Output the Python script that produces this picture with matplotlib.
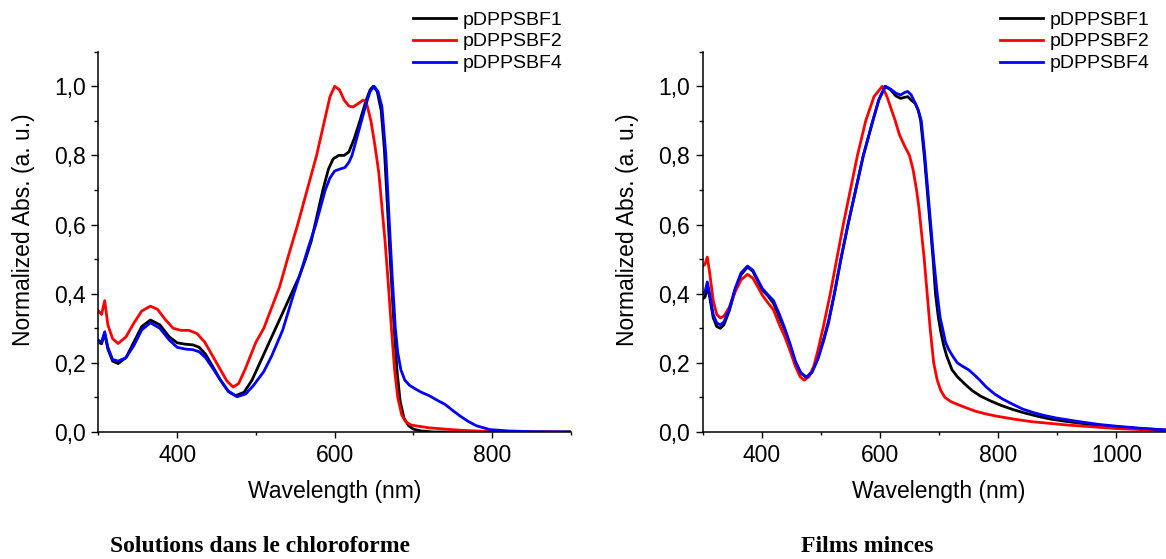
import matplotlib
matplotlib.use('Agg')
import matplotlib.pyplot as plt
from matplotlib.ticker import MultipleLocator, FuncFormatter

plt.rcParams['font.family'] = ['Liberation Sans', 'DejaVu Sans']

# === Dati: solutions dans le chloroforme ===
wl_sol_1 = [300, 304, 308, 312, 318, 325, 335, 345, 355, 366, 378, 390, 400, 410, 420, 428,
            436, 445, 455, 465, 474, 485, 495, 505, 515, 525, 535, 545, 555, 563, 570, 575,
            580, 585, 592, 598, 605, 612, 618, 625, 632, 640, 645, 649, 654, 659, 663, 667,
            671, 675, 679, 683, 688, 694, 700, 710, 725, 800, 900]
abs_sol_1 = [0.26, 0.255, 0.285, 0.24, 0.205, 0.198, 0.215, 0.26, 0.305, 0.324, 0.31, 0.275,
             0.258, 0.254, 0.252, 0.245, 0.225, 0.19, 0.15, 0.118, 0.105, 0.115, 0.15, 0.2,
             0.25, 0.3, 0.35, 0.4, 0.45, 0.5, 0.55, 0.6, 0.65, 0.7, 0.76, 0.79, 0.8, 0.8,
             0.81, 0.85, 0.9, 0.96, 0.99, 1.0, 0.985, 0.93, 0.82, 0.65, 0.48, 0.32, 0.18,
             0.09, 0.04, 0.018, 0.008, 0.003, 0.0, 0.0, 0.0]

wl_sol_2 = [300, 304, 308, 312, 318, 325, 335, 345, 355, 366, 375, 385, 395, 405, 415, 425,
            435, 445, 455, 463, 471, 478, 486, 493, 500, 510, 520, 530, 540, 553, 565, 577,
            587, 594, 600, 606, 612, 618, 623, 630, 636, 640, 646, 651, 656, 660, 664, 668,
            672, 676, 680, 685, 690, 697, 720, 760, 800, 900]
abs_sol_2 = [0.35, 0.34, 0.38, 0.31, 0.27, 0.256, 0.275, 0.315, 0.35, 0.364, 0.355, 0.325,
             0.3, 0.294, 0.294, 0.285, 0.26, 0.22, 0.18, 0.148, 0.13, 0.14, 0.18, 0.22,
             0.26, 0.3, 0.36, 0.42, 0.5, 0.6, 0.7, 0.8, 0.9, 0.97, 1.0, 0.99, 0.96, 0.943,
             0.94, 0.95, 0.96, 0.955, 0.9, 0.83, 0.75, 0.65, 0.55, 0.43, 0.3, 0.18, 0.1,
             0.05, 0.03, 0.02, 0.012, 0.005, 0.001, 0.0]

wl_sol_4 = [300, 304, 308, 312, 318, 325, 335, 345, 355, 366, 378, 390, 400, 410, 420, 428,
            436, 445, 455, 465, 476, 487, 497, 510, 520, 534, 548, 558, 566, 576, 582, 588,
            594, 600, 606, 613, 618, 622, 628, 634, 640, 645, 650, 655, 660, 665, 669, 673,
            677, 680, 684, 689, 695, 702, 710, 720, 730, 740, 750, 760, 770, 780, 797, 821,
            850, 900]
abs_sol_4 = [0.265, 0.26, 0.29, 0.245, 0.21, 0.205, 0.215, 0.25, 0.295, 0.316, 0.3, 0.266,
             0.245, 0.24, 0.238, 0.232, 0.215, 0.185, 0.15, 0.117, 0.102, 0.11, 0.135, 0.175,
             0.22, 0.295, 0.4, 0.47, 0.53, 0.6, 0.65, 0.7, 0.735, 0.755, 0.76, 0.765, 0.78,
             0.8, 0.85, 0.9, 0.95, 0.985, 1.0, 0.985, 0.94, 0.8, 0.62, 0.45, 0.3, 0.23, 0.18,
             0.15, 0.135, 0.125, 0.115, 0.105, 0.092, 0.08, 0.062, 0.045, 0.03, 0.018, 0.007,
             0.003, 0.001, 0.0]

# === Dati: films minces ===
wl_film_1 = [300, 304, 308, 312, 318, 324, 330, 336, 345, 355, 365, 376, 385, 395, 401, 410,
             420, 430, 439, 448, 457, 466, 476, 485, 495, 505, 513, 523, 534, 546, 559, 572,
             588, 598, 609, 618, 627, 635, 642, 647, 653, 660, 665, 669, 675, 680, 685, 690,
             694, 699, 703, 708, 713, 722, 731, 743, 756, 770, 787, 805, 825, 845, 868, 890,
             918, 950, 999, 1040, 1100]
abs_film_1 = [0.385, 0.39, 0.42, 0.39, 0.33, 0.305, 0.3, 0.31, 0.35, 0.41, 0.455, 0.477,
              0.465, 0.43, 0.41, 0.395, 0.372, 0.33, 0.295, 0.25, 0.2, 0.17, 0.158, 0.175,
              0.215, 0.27, 0.32, 0.4, 0.5, 0.6, 0.7, 0.8, 0.9, 0.96, 1.0, 0.99, 0.972, 0.965,
              0.968, 0.97, 0.96, 0.95, 0.93, 0.9, 0.8, 0.7, 0.6, 0.5, 0.4, 0.33, 0.29, 0.25,
              0.22, 0.18, 0.16, 0.14, 0.12, 0.104, 0.09, 0.077, 0.065, 0.055, 0.045, 0.037,
              0.03, 0.023, 0.015, 0.01, 0.004]

wl_film_2 = [300, 304, 308, 312, 318, 324, 330, 336, 345, 355, 365, 376, 385, 395, 401, 410,
             420, 430, 439, 448, 457, 465, 472, 480, 488, 495, 505, 516, 527, 538, 550, 562,
             576, 590, 604, 612, 619, 626, 633, 641, 650, 656, 662, 666, 669, 675, 680, 685,
             691, 697, 703, 710, 720, 731, 746, 762, 780, 800, 828, 856, 887, 918, 960, 999,
             1040, 1100]
abs_film_2 = [0.48, 0.485, 0.506, 0.46, 0.38, 0.34, 0.33, 0.335, 0.36, 0.405, 0.44, 0.456,
              0.445, 0.415, 0.396, 0.375, 0.353, 0.31, 0.276, 0.235, 0.19, 0.16, 0.15, 0.16,
              0.19, 0.235, 0.31, 0.4, 0.5, 0.6, 0.7, 0.8, 0.9, 0.97, 1.0, 0.97, 0.935, 0.9,
              0.86, 0.83, 0.8, 0.76, 0.7, 0.65, 0.6, 0.5, 0.4, 0.3, 0.2, 0.15, 0.12, 0.1,
              0.088, 0.08, 0.07, 0.06, 0.052, 0.045, 0.037, 0.03, 0.025, 0.02, 0.015, 0.01,
              0.007, 0.003]

wl_film_4 = [300, 304, 308, 312, 318, 324, 330, 336, 345, 355, 365, 376, 385, 395, 401, 410,
             420, 430, 439, 448, 457, 466, 476, 485, 495, 505, 513, 523, 534, 546, 559, 572,
             588, 598, 609, 618, 627, 635, 642, 647, 653, 660, 665, 670, 676, 681, 686, 691,
             697, 702, 706, 711, 716, 723, 731, 740, 750, 760, 769, 780, 794, 808, 825, 842,
             862, 880, 900, 937, 970, 999, 1040, 1100]
abs_film_4 = [0.4, 0.405, 0.434, 0.4, 0.34, 0.315, 0.31, 0.318, 0.355, 0.415, 0.46, 0.48,
              0.468, 0.435, 0.415, 0.398, 0.38, 0.34, 0.3, 0.255, 0.205, 0.172, 0.158, 0.172,
              0.21, 0.265, 0.315, 0.4, 0.5, 0.6, 0.7, 0.8, 0.9, 0.96, 1.0, 0.992, 0.98, 0.975,
              0.982, 0.985, 0.975, 0.95, 0.93, 0.9, 0.8, 0.7, 0.6, 0.5, 0.4, 0.33, 0.3, 0.26,
              0.24, 0.22, 0.2, 0.19, 0.18, 0.165, 0.15, 0.13, 0.11, 0.095, 0.08, 0.066, 0.055,
              0.047, 0.04, 0.03, 0.022, 0.017, 0.011, 0.004]

labels = ['pDPPSBF1', 'pDPPSBF2', 'pDPPSBF4']
colors = ['black', '#ff0000', '#0000ff']

# === Figura ===
W, H = 1166, 559
fig = plt.figure(figsize=(W / 100, H / 100), dpi=100, facecolor='w')

ax1 = fig.add_axes([98.4 / W, 1 - 432 / H, 472.6 / W, 380.3 / H])
ax2 = fig.add_axes([702.6 / W, 1 - 432 / H, 472.8 / W, 380.3 / H])

comma = FuncFormatter(lambda v, p: f'{v:.1f}'.replace('.', ','))

panels = [
    (ax1, [(wl_sol_1, abs_sol_1), (wl_sol_2, abs_sol_2), (wl_sol_4, abs_sol_4)], (300, 900), 413),
    (ax2, [(wl_film_1, abs_film_1), (wl_film_2, abs_film_2), (wl_film_4, abs_film_4)], (300, 1100), 1000),
]

for ax, series, xlim, leg_x in panels:
    for (wl, ab), lab, col in zip(series, labels, colors):
        ax.plot(wl, ab, color=col, lw=2.0, label=lab, solid_joinstyle='round')

    ax.set_xlim(*xlim)
    ax.set_ylim(0, 1.1)
    ax.spines['top'].set_visible(False)
    ax.spines['right'].set_visible(False)
    for s in ('left', 'bottom'):
        ax.spines[s].set_linewidth(1.1)

    ax.xaxis.set_major_locator(MultipleLocator(200))
    ax.xaxis.set_minor_locator(MultipleLocator(100))
    ax.yaxis.set_major_locator(MultipleLocator(0.2))
    ax.yaxis.set_minor_locator(MultipleLocator(0.1))
    ax.yaxis.set_major_formatter(comma)

    ax.tick_params(axis='x', which='major', direction='out', length=4, width=1, labelsize=16.5, pad=5)
    ax.tick_params(axis='x', which='minor', direction='out', length=2.5, width=1)
    ax.tick_params(axis='y', which='major', direction='out', length=5, width=1, labelsize=16.5, pad=4)
    ax.tick_params(axis='y', which='minor', direction='out', length=3, width=1)

    ax.set_xlabel('Wavelength (nm)', fontsize=16.5)
    ax.set_ylabel('Normalized Abs. (a. u.)', fontsize=16.5)
    ax.xaxis.set_label_coords(0.5, -0.125)
    ax.yaxis.set_label_coords(-0.135, 0.531)

    ax.legend(loc='upper left', bbox_to_anchor=(leg_x / W, 1 - 11 / H),
              bbox_transform=fig.transFigure, frameon=False, fontsize=14,
              handlelength=2.2, handletextpad=0.35, labelspacing=0.22,
              borderpad=0, borderaxespad=0)

# Didascalie
fig.text(110 / W, 1.5 / H, 'Solutions dans le chloroforme', family='Liberation Serif',
         fontweight='bold', fontsize=17, ha='left', va='bottom')
fig.text(801 / W, 1.5 / H, 'Films minces', family='Liberation Serif',
         fontweight='bold', fontsize=17, ha='left', va='bottom')

fig.savefig('out.png', dpi=100)
